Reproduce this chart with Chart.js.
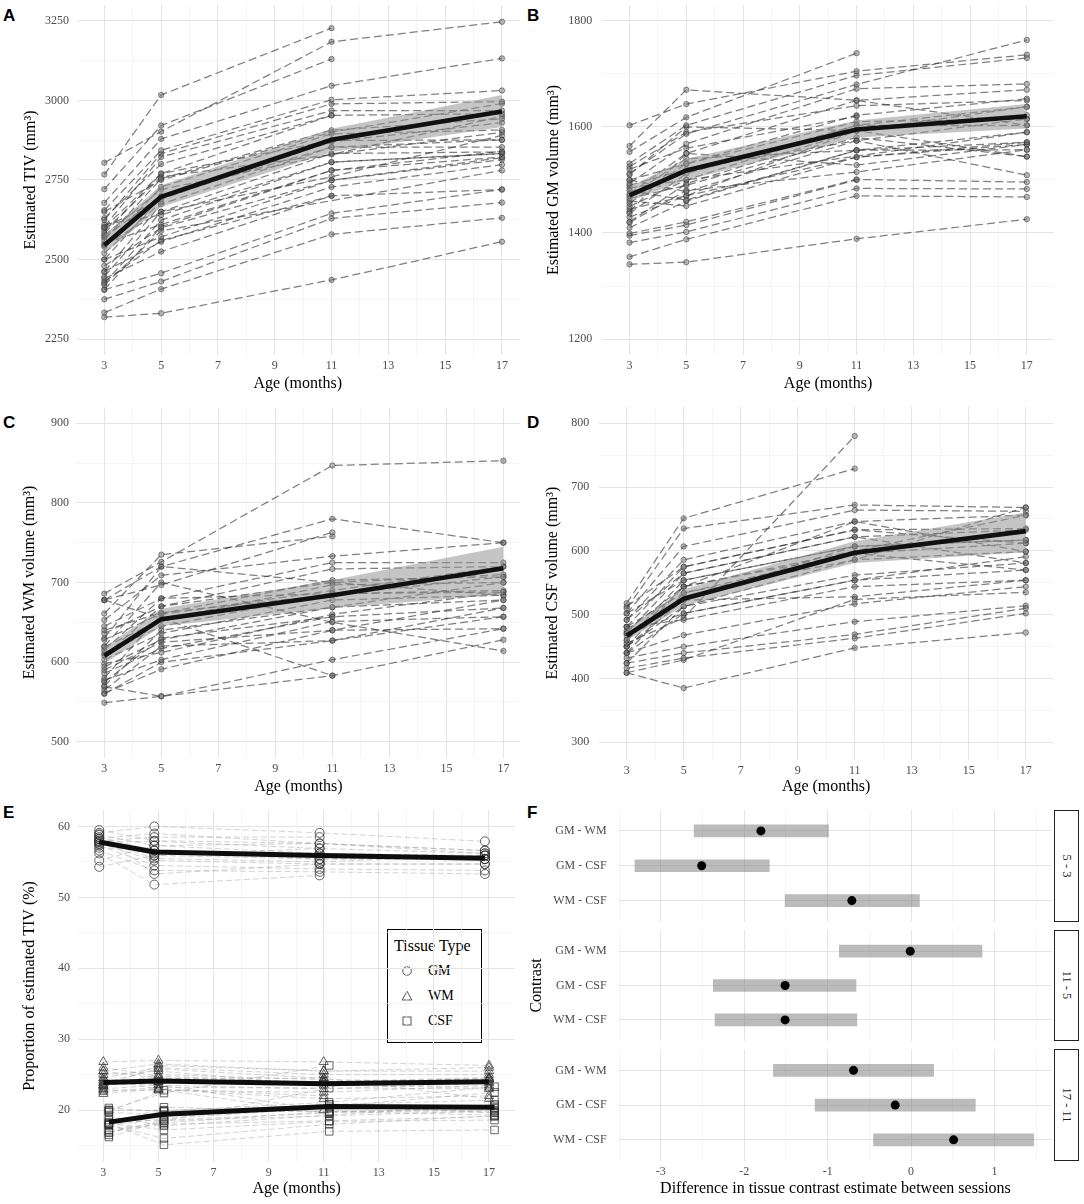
<!DOCTYPE html>
<html>
<head>
<meta charset="utf-8">
<title>Infant brain tissue volumes</title>
<script src="https://cdn.jsdelivr.net/npm/chart.js@4.4.1/dist/chart.umd.min.js"></script>
<style>
  html, body { margin:0; padding:0; background:#fff; }
  body { position:relative; width:1084px; height:1204px; overflow:hidden; font-family:'Liberation Serif','Times New Roman',serif; }
  canvas { position:absolute; }
  .letter { position:absolute; font-family:'Liberation Sans',Arial,sans-serif; font-weight:bold; font-size:17px; line-height:17px; color:#000; }
  .strip { position:absolute; box-sizing:border-box; border:1px solid #222; background:#fff; }
  .strip span { position:absolute; left:50%; top:50%; transform:translate(-50%,-50%) rotate(90deg); white-space:nowrap; font-size:12.5px; color:#1a1a1a; }
  .legend { position:absolute; left:387px; top:929px; width:95px; height:114px; box-sizing:border-box; border:1.5px solid #000; background:#fff; }
  .legend .ttl { position:absolute; left:6px; top:6.5px; font-size:16px; line-height:18px; white-space:nowrap; }
  .legend svg { position:absolute; left:12.5px; }
  .legend .txt { position:absolute; left:40px; font-size:14px; line-height:16px; }
</style>
</head>
<body>
<div class="letter" style="left:3px;top:7px">A</div>
<div class="letter" style="left:527px;top:7px">B</div>
<div class="letter" style="left:3px;top:414px">C</div>
<div class="letter" style="left:527px;top:414px">D</div>
<div class="letter" style="left:3px;top:804px">E</div>
<div class="letter" style="left:527px;top:804px">F</div>

<div class="legend">
  <div class="ttl">Tissue Type</div>
  <svg width="12" height="12" style="top:35px" viewBox="0 0 12 12"><circle cx="6" cy="6" r="4.3" fill="none" stroke="#555" stroke-width="1"/></svg>
  <div class="txt" style="top:33px">GM</div>
  <svg width="12" height="12" style="top:60px" viewBox="0 0 12 12"><polygon points="6,1.2 10.8,10 1.2,10" fill="none" stroke="#555" stroke-width="1"/></svg>
  <div class="txt" style="top:58px">WM</div>
  <svg width="12" height="12" style="top:85px" viewBox="0 0 12 12"><rect x="2" y="2" width="8" height="8" fill="none" stroke="#555" stroke-width="1"/></svg>
  <div class="txt" style="top:83px">CSF</div>
</div>

<script>
// ---------------- DATA ----------------
const ages = [3, 5, 11, 17];

// Panel A: estimated TIV (mm^3), one row per infant at ages 3, 5, 11, 17 months
const tivSubjects = [
  [2319, 2331, 2436, 2556], [2333, 2407, 2579, 2631], [2375, 2431, 2629, 2679], [2405, 2457, 2645, 2720],
  [2804, 2902, 3184, 3247], [2767, 3017, 3227, null], [2721, 2921, 3130, null], [2678, 2879, 3046, 3132],
  [2655, 2843, 3002, 3031], [2624, 2833, 2989, 2996], [2603, 2822, 2968, 2968], [2582, 2770, 2953, 2958],
  [2561, 2754, 2906, 2942], [2540, 2728, 2895, 2907], [2500, 2697, 2874, 2876], [2462, 2674, 2853, 2853],
  [2446, 2650, 2833, 2838], [2425, 2624, 2806, 2833], [2405, 2603, 2780, 2822], [2500, 2571, 2749, 2814],
  [2462, 2556, 2728, 2798], [2440, 2525, 2700, 2720], [2600, 2770, 2874, null], [2590, 2760, null, 2900],
  [2570, 2700, 2853, 2876], [2610, 2640, 2806, 2833], [2550, 2610, 2780, 2840], [2630, 2800, 2953, null],
  [2480, 2600, 2749, 2820], [2520, 2680, null, null], [2650, 2750, 2900, 2990], [2430, 2560, 2700, null],
  [2575, 2720, 2830, 2950], [2545, 2650, 2760, 2890], [2420, 2590, null, 2780], [2600, 2690, 2870, 2930]
];
const tivMean  = [2545, 2697, 2876, 2965];
const tivLower = [2519, 2665, 2838, 2916];
const tivUpper = [2577, 2733, 2911, 3017];

// Panel B: GM volume
const gmSubjects = [
  [1341, 1345, 1389, 1426], [1355, 1388, 1470, 1468], [1382, 1402, 1484, 1483], [1399, 1421, 1501, 1496],
  [1603, 1643, 1705, 1736], [1564, 1670, 1650, 1603], [1553, 1618, 1739, null], [1531, 1603, 1697, 1730],
  [1512, 1587, 1680, 1764], [1493, 1568, 1672, 1681], [1474, 1550, 1650, 1670], [1456, 1531, 1622, 1653],
  [1437, 1512, 1603, 1638], [1421, 1493, 1593, 1622], [1500, 1478, 1574, 1615], [1480, 1462, 1556, 1590],
  [1460, 1451, 1543, 1571], [1440, 1550, 1528, 1567], [1420, 1480, 1515, 1557], [1510, 1600, 1593, 1544],
  [1490, 1520, 1574, 1509], [1470, 1540, 1556, 1557], [1450, 1500, 1603, 1603], [1430, 1470, 1543, 1567],
  [1520, 1560, 1620, null], [1485, 1500, null, 1590], [1410, 1460, 1556, 1571], [1445, 1470, 1593, 1638],
  [1525, 1590, 1640, 1650], [1465, 1490, 1580, 1544], [1395, 1415, 1500, null], [1500, 1530, 1610, 1615]
];
const gmMean  = [1471, 1518, 1595, 1620];
const gmLower = [1460, 1500, 1580, 1597];
const gmUpper = [1487, 1540, 1612, 1643];

// Panel C: WM volume
const wmSubjects = [
  [549, 557, 603, 642], [569, 557, 583, 628], [686, 726, 847, 853], [678, 720, 780, 750],
  [678, 697, 763, null], [661, 735, 758, null], [653, 709, 733, 750], [645, 680, 725, 725],
  [636, 670, 717, 720], [628, 661, 703, 707], [619, 653, 697, 700], [611, 645, 686, 688],
  [603, 636, 678, 684], [594, 628, 669, 678], [586, 617, 657, 668], [577, 603, 651, 657],
  [561, 591, 640, 642], [565, 620, 627, 657], [678, 655, 583, null], [620, 700, 650, 614],
  [570, 640, 669, 700], [580, 660, 690, 720], [590, 625, 640, 678], [608, 670, 700, 710],
  [615, 680, 686, 690], [560, 600, 627, 668], [630, 720, 700, 684], [598, 612, 660, 688],
  [575, 630, 657, null], [640, 662, null, 707]
];
const wmMean  = [608, 654, 684, 718];
const wmLower = [598, 645, 668, 685];
const wmUpper = [619, 667, 703, 745];

// Panel D: CSF volume
const csfSubjects = [
  [409, 385, 448, 472], [416, 432, 463, 502], [424, 440, 469, 510], [432, 450, 489, 514],
  [409, 429, 524, 535], [440, 468, 517, 544], [518, 651, 729, null], [455, 495, 780, null],
  [510, 635, 672, 668], [502, 607, 664, 662], [492, 586, 646, 656], [481, 575, 633, 635],
  [471, 565, 622, 633], [460, 554, 607, 617], [450, 544, 596, 612], [440, 534, 586, 599],
  [424, 513, 562, 581], [471, 502, 554, 570], [481, 492, 544, 554], [450, 523, 528, 554],
  [460, 544, 646, 599], [492, 565, 622, 581], [502, 554, 607, 617], [481, 534, 596, 570],
  [513, 575, 633, 612], [450, 513, 586, 668], [440, 502, 554, 591], [467, 523, 607, null],
  [475, 544, null, 656]
];
const csfMean  = [467, 525, 597, 631];
const csfLower = [459, 514, 581, 598];
const csfUpper = [477, 540, 615, 660];

// Panel E: proportion of estimated TIV (%)
const gmProp = [
  [59.5, 58.0, 57.6, 56.6], [59.1, 60.0, 59.1, 57.9], [58.8, 57.3, 56.2, 55.9], [58.5, 56.6, 55.4, 55.4],
  [58.2, 55.9, 56.9, 56.2], [57.9, 58.5, 58.5, null], [57.6, 55.2, 54.7, 54.7], [57.3, 54.5, 54.0, 53.8],
  [57.0, 56.6, 55.9, 55.4], [56.6, 53.8, 53.6, 53.3], [56.2, 51.8, 53.1, null], [55.2, 57.3, 57.6, 56.6],
  [54.3, 55.9, 55.4, 55.9], [58.3, 59.0, null, 56.2], [57.5, 56.2, 56.2, 55.4], [58.9, 53.3, 54.7, 54.7],
  [57.8, 57.9, 56.9, null], [58.0, 55.5, 55.0, 55.9]
];
const wmProp = [
  [23.5, 24.0, 23.9, 24.3], [22.8, 22.8, 22.5, 23.5], [24.0, 24.5, 24.0, 24.4], [23.4, 25.0, 24.3, 24.0],
  [25.0, 25.5, 23.5, 23.2], [22.3, 23.0, 22.0, null], [24.5, 26.0, 25.0, 25.0], [26.8, 27.0, 26.8, 26.3],
  [23.0, 23.5, 23.0, 23.8], [25.5, 26.5, 25.5, 25.5], [23.8, 25.8, 24.5, null], [24.5, 22.9, 21.6, 22.0],
  [26.0, 24.8, 23.8, 24.5], [22.6, 23.2, null, 23.0], [24.2, 24.0, 24.0, 24.6], [23.2, 26.3, 25.5, 26.0],
  [23.6, 23.6, 20.0, null], [25.5, 24.5, 24.5, 21.6]
];
const csfProp = [
  [17.0, 18.0, 18.5, 19.1], [18.1, 17.2, 18.4, 18.6], [17.2, 18.2, 19.8, 19.7], [18.1, 15.1, 17.0, 17.2],
  [16.8, 18.6, 19.6, 20.6], [19.8, 22.8, 19.5, null], [17.9, 18.8, 20.3, 20.3], [16.2, 18.5, 19.2, 19.9],
  [20.0, 19.9, 21.1, 23.3], [17.9, 16.0, 18.0, 19.2], [20.0, 22.4, 26.3, null], [20.3, 19.8, 20.8, 21.4],
  [19.7, 19.3, 20.8, 19.6], [19.1, 17.8, null, 20.8], [18.3, 19.8, 19.8, 20.0], [17.9, 20.4, 19.8, 19.3],
  [18.6, 18.5, 23.1, null], [16.5, 20.0, 20.5, 22.5]
];
const gmPropMean  = [57.8, 56.4, 55.9, 55.5];
const wmPropMean  = [23.9, 24.1, 23.7, 24.0];
const csfPropMean = [18.3, 19.4, 20.5, 20.4];
const tissueNames = ['GM', 'WM', 'CSF'];

// Panel F: between-session contrast estimates with intervals
const contrastLabels = ['GM - WM', 'GM - CSF', 'WM - CSF'];
const sessionLabels  = ['5 - 3', '11 - 5', '17 - 11'];
const estimates = [[-1.80, -2.51, -0.71], [-0.01, -1.51, -1.51], [-0.69, -0.19, 0.51]];
const ciLower   = [[-2.60, -3.31, -1.51], [-0.86, -2.37, -2.35], [-1.65, -1.15, -0.45]];
const ciUpper   = [[-0.99, -1.70, 0.10], [0.85, -0.66, -0.65], [0.27, 0.77, 1.47]];

// ---------------- HELPERS ----------------
const FONT = "'Liberation Serif', 'Times New Roman', serif";
const GRID_MAJOR = '#e4e4e4', GRID_MINOR = '#efefef';

function axis(o) {
  const isX = o.pos === 'bottom';
  const maj = c => (c && c.tick) ? o.major(c.tick.value) : true;
  return {
    type: 'linear', position: o.pos, min: o.min, max: o.max, reverse: !!o.reverse, offset: false,
    border: { display: false },
    grid: { drawTicks: false, offset: false,
      color: c => maj(c) ? GRID_MAJOR : GRID_MINOR,
      lineWidth: c => maj(c) ? 1.1 : 0.6 },
    ticks: { display: o.showTicks !== false, stepSize: o.step, includeBounds: false, maxTicksLimit: 1000,
      autoSkip: false, maxRotation: 0, minRotation: 0, padding: o.tickPad == null ? 4 : o.tickPad,
      color: '#4d4d4d', font: { family: FONT, size: 12 }, callback: v => o.label(v) },
    title: { display: !!o.title, text: o.title || '', color: '#000', font: { family: FONT, size: 16 },
      padding: isX ? { top: 0, bottom: o.titlePad || 0 } : { top: o.titlePad || 0, bottom: 0 } },
    afterFit: s => {
      if (isX) s.height = o.size; else s.width = o.size;
      s.paddingTop = 0; s.paddingBottom = 0; s.paddingLeft = 0; s.paddingRight = 0;
    }
  };
}

function makeChart(s) {
  const cv = document.createElement('canvas');
  cv.width = s.w; cv.height = s.h;
  cv.style.left = s.left + 'px'; cv.style.top = s.top + 'px';
  cv.style.width = s.w + 'px'; cv.style.height = s.h + 'px';
  document.body.appendChild(cv);
  return new Chart(cv.getContext('2d'), {
    type: s.type || 'scatter',
    data: { datasets: s.datasets },
    options: {
      responsive: false, maintainAspectRatio: false, animation: false, events: [],
      indexAxis: s.indexAxis || 'x',
      layout: { padding: { left: 0, bottom: 0, top: s.plot.t - s.top, right: s.left + s.w - s.plot.r } },
      plugins: { legend: { display: false }, tooltip: { enabled: false } },
      scales: {
        x: axis(Object.assign({ pos: 'bottom', size: s.top + s.h - s.plot.b }, s.x)),
        y: axis(Object.assign({ pos: 'left', size: s.plot.l - s.left }, s.y))
      }
    }
  });
}

const pts = (vals, shift) => ages.map((a, i) => vals[i] == null ? null : { x: a + (shift || 0), y: vals[i] }).filter(p => p);
const oddMonth = v => Number.isInteger(v) && v % 2 === 1;

function volumeDatasets(subjects, mean, lower, upper) {
  const ds = subjects.map(v => ({
    data: pts(v), showLine: true, order: 3,
    borderColor: 'rgba(55,55,55,0.64)', borderWidth: 1.25, borderDash: [8, 4],
    pointRadius: 2.7, pointBorderWidth: 0.9,
    pointBackgroundColor: 'rgba(105,105,105,0.45)', pointBorderColor: 'rgba(50,50,50,0.6)'
  }));
  ds.push({ data: pts(lower), showLine: true, order: 2, borderColor: 'rgba(0,0,0,0)', borderWidth: 1, pointRadius: 0, fill: false });
  ds.push({ data: pts(upper), showLine: true, order: 2, borderColor: 'rgba(0,0,0,0)', borderWidth: 1, pointRadius: 0,
            fill: '-1', backgroundColor: 'rgba(150,150,150,0.55)' });
  ds.push({ data: pts(mean), showLine: true, order: 1, borderColor: '#111', borderWidth: 4.6, pointRadius: 0 });
  return ds;
}

function volumePanel(p) {
  makeChart({
    left: p.left, top: p.top, w: p.w, h: 400, plot: p.plot,
    datasets: volumeDatasets(p.subjects, p.mean, p.lower, p.upper),
    x: { min: p.xMin, max: p.xMax, step: 1, major: oddMonth, label: v => oddMonth(v) ? String(v) : '',
         title: 'Age (months)', titlePad: p.xTitlePad },
    y: { min: p.yMin, max: p.yMax, step: p.yStep, major: v => v % p.yLabelEvery === 0,
         label: v => v % p.yLabelEvery === 0 ? String(v) : '', tickPad: p.yTickPad,
         title: p.yTitle, titlePad: p.yTitlePad }
  });
}

// ---------------- PANELS A-D ----------------
volumePanel({ left: 0, top: 0, w: 540, plot: { l: 76.5, r: 519, t: 4, b: 355 }, xMin: 2.02, xMax: 17.6,
  subjects: tivSubjects, mean: tivMean, lower: tivLower, upper: tivUpper, yTickPad: 7.5,
  yMin: 2200, yMax: 3300, yStep: 125, yLabelEvery: 250, yTitle: 'Estimated TIV (mm³)', yTitlePad: 21.4, xTitlePad: 7 });
volumePanel({ left: 540, top: 0, w: 544, plot: { l: 602.3, r: 1053.8, t: 4, b: 355 }, xMin: 2.04, xMax: 17.95,
  subjects: gmSubjects, mean: gmMean, lower: gmLower, upper: gmUpper, yTickPad: 10,
  yMin: 1170, yMax: 1830, yStep: 100, yLabelEvery: 200, yTitle: 'Estimated GM volume (mm³)', yTitlePad: 4.3, xTitlePad: 7 });
volumePanel({ left: 0, top: 400, w: 540, plot: { l: 76.4, r: 520.5, t: 407.4, b: 757.6 }, xMin: 2.02, xMax: 17.6,
  subjects: wmSubjects, mean: wmMean, lower: wmLower, upper: wmUpper, yTickPad: 7.5,
  yMin: 480, yMax: 920, yStep: 50, yLabelEvery: 100, yTitle: 'Estimated WM volume (mm³)', yTitlePad: 19.7, xTitlePad: 4 });
volumePanel({ left: 540, top: 400, w: 544, plot: { l: 599.3, r: 1052.9, t: 406.7, b: 759.5 }, xMin: 2.04, xMax: 17.95,
  subjects: csfSubjects, mean: csfMean, lower: csfLower, upper: csfUpper, yTickPad: 10,
  yMin: 273, yMax: 826, yStep: 50, yLabelEvery: 100, yTitle: 'Estimated CSF volume (mm³)', yTitlePad: 3.6, xTitlePad: 4 });

// ---------------- PANEL E ----------------
const dodge = { GM: -0.15, WM: 0, CSF: 0.2 };
const markerStyle = { GM: ['circle', 4.5], WM: ['triangle', 5.3], CSF: ['rect', 5.3] };
const propSets = { GM: [gmProp, gmPropMean], WM: [wmProp, wmPropMean], CSF: [csfProp, csfPropMean] };
const eDatasets = [];
tissueNames.forEach(t => {
  const [rows, mean] = propSets[t];
  rows.forEach(r => eDatasets.push({
    data: pts(r, dodge[t]), showLine: true, order: 3,
    borderColor: 'rgba(150,150,150,0.42)', borderWidth: 1, borderDash: [6, 3],
    pointStyle: markerStyle[t][0], pointRadius: markerStyle[t][1], pointBorderWidth: 1,
    pointBackgroundColor: 'rgba(255,255,255,0)', pointBorderColor: 'rgba(45,45,45,0.72)'
  }));
  eDatasets.push({ data: pts(mean, dodge[t]), showLine: true, order: 1, borderColor: '#0d0d0d', borderWidth: 5, pointRadius: 0 });
});
makeChart({
  left: 0, top: 800, w: 540, h: 404, plot: { l: 78, r: 515.2, t: 810.5, b: 1161.5 },
  datasets: eDatasets,
  x: { min: 2.08, max: 17.95, step: 1, major: oddMonth, label: v => oddMonth(v) ? String(v) : '', title: 'Age (months)', titlePad: 6 },
  y: { min: 12.75, max: 62.25, step: 5, major: v => v % 10 === 0, label: v => v % 10 === 0 ? String(v) : '', tickPad: 8,
       title: 'Proportion of estimated TIV (%)', titlePad: 19.7 }
});

// ---------------- PANEL F ----------------
const facetBoxes = [
  { top: 800, h: 126, t: 810, b: 921.7 },
  { top: 926, h: 119, t: 930, b: 1040.7 },
  { top: 1045, h: 159, t: 1049.3, b: 1160.7 }
];
facetBoxes.forEach((f, k) => {
  const last = k === facetBoxes.length - 1;
  makeChart({
    type: 'bar', indexAxis: 'y', left: 524, top: f.top, w: 560, h: f.h,
    plot: { l: 619.1, r: 1051.8, t: f.t, b: f.b },
    datasets: [
      { type: 'line', data: estimates[k].map((v, i) => ({ x: v, y: i })), showLine: false, order: 0,
        pointRadius: 4.5, pointBackgroundColor: '#000', pointBorderColor: '#000', pointBorderWidth: 0 },
      { type: 'bar', data: ciLower[k].map((v, i) => ({ x: [v, ciUpper[k][i]], y: i })), order: 1,
        backgroundColor: 'rgba(120,120,120,0.5)', borderWidth: 0, barThickness: 12 }
    ],
    x: { min: -3.5, max: 1.687, step: 0.5, major: v => Number.isInteger(v), label: v => Number.isInteger(v) ? String(v) : '',
         showTicks: last, title: last ? 'Difference in tissue contrast estimate between sessions' : '', titlePad: 6 },
    y: { min: -0.6, max: 2.6, step: 1, reverse: true, major: () => true,
         label: v => contrastLabels[v] !== undefined ? contrastLabels[v] : '', tickPad: 12.5,
         title: k === 1 ? 'Contrast' : '', titlePad: 3.4 }
  });
  const strip = document.createElement('div');
  strip.className = 'strip';
  strip.style.cssText = `left:1053.5px;top:${f.t}px;width:25px;height:${f.b - f.t}px`;
  const sp = document.createElement('span');
  sp.textContent = sessionLabels[k];
  strip.appendChild(sp);
  document.body.appendChild(strip);
});
</script>
</body>
</html>
